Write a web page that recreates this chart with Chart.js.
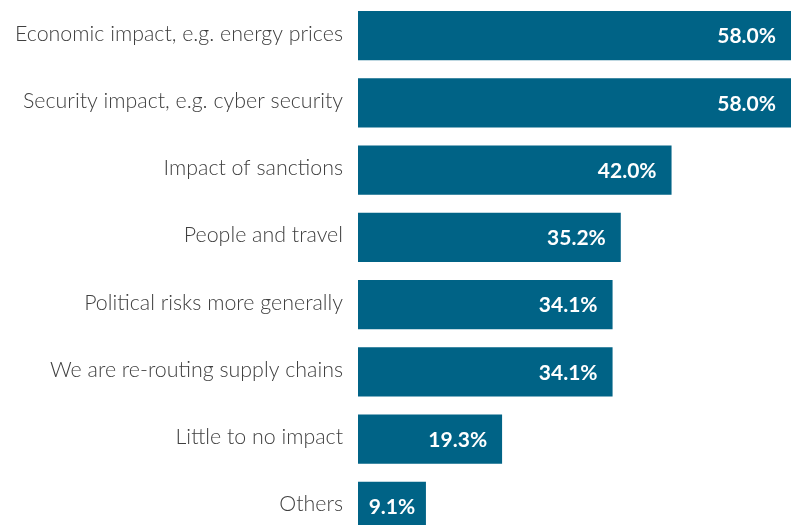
<!DOCTYPE html>
<html>
<head>
<meta charset="utf-8">
<script src="https://cdn.jsdelivr.net/npm/chart.js@4.4.1/dist/chart.umd.min.js"></script>
<style>
    html, body { margin: 0; padding: 0; background: #ffffff; overflow: hidden; }
    #wrap { width: 794px; height: 525px; overflow: hidden; }
    canvas { display: block; }
</style>
</head>
<body>
<div id="wrap"><canvas id="impactChart" width="794" height="540"></canvas></div>
<script>
const categories = [
    'Economic impact, e.g. energy prices',
    'Security impact, e.g. cyber security',
    'Impact of sanctions',
    'People and travel',
    'Political risks more generally',
    'We are re-routing supply chains',
    'Little to no impact',
    'Others'
];
const shares = [58.0, 58.0, 42.0, 35.2, 34.1, 34.1, 19.3, 9.1];

const BAR_COLOR = '#006386';

// white percentage labels inside the right end of each bar
const valueLabels = {
    id: 'valueLabels',
    afterDatasetsDraw(chart) {
        const ctx = chart.ctx;
        const meta = chart.getDatasetMeta(0);
        ctx.save();
        ctx.font = 'bold 21px Lato, sans-serif';
        ctx.fillStyle = '#ffffff';
        ctx.textBaseline = 'middle';
        ctx.textAlign = 'left';
        meta.data.forEach((bar, i) => {
            const text = shares[i].toFixed(1) + '%';
            const w = ctx.measureText(text).width;
            const barW = bar.x - bar.base;
            let x = bar.x - 15 - w;
            if (barW - w < 36) x = bar.base + (barW - w) / 2;
            ctx.fillText(text, x, bar.y + 1);
        });
        ctx.restore();
    }
};

new Chart(document.getElementById('impactChart'), {
    type: 'bar',
    data: {
        labels: categories,
        datasets: [{
            data: shares,
            backgroundColor: BAR_COLOR,
            borderWidth: 0,
            categoryPercentage: 1.0,
            barPercentage: 0.73
        }]
    },
    options: {
        indexAxis: 'y',
        responsive: false,
        animation: false,
        layout: { padding: { top: 2, right: 3, bottom: 0, left: 0 } },
        plugins: {
            legend: { display: false },
            tooltip: { enabled: false }
        },
        scales: {
            x: {
                display: false,
                min: 0,
                max: 58
            },
            y: {
                grid: { display: false, drawTicks: false },
                border: { display: false },
                ticks: {
                    color: '#404040',
                    padding: 15,
                    labelOffset: -2,
                    font: { family: 'Lato', size: 21.4, weight: '300' }
                },
                afterFit(axis) {
                    axis.width = 358;
                    axis.paddingTop = 0;
                    axis.paddingBottom = 0;
                }
            }
        }
    },
    plugins: [valueLabels]
});
</script>
</body>
</html>
